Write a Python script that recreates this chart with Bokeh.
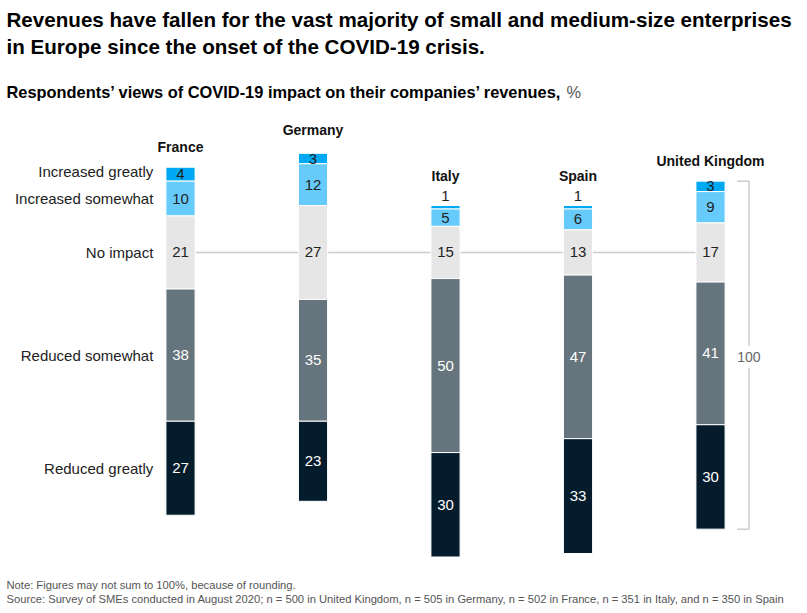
from bokeh.plotting import figure
from bokeh.models import ColumnDataSource, Range1d
from bokeh.core.properties import value
from bokeh.models import Label
from bokeh.embed import file_html
from bokeh.resources import INLINE

countries = ["France", "Germany", "Italy", "Spain", "United Kingdom"]
categories = ["Increased greatly", "Increased somewhat", "No impact",
              "Reduced somewhat", "Reduced greatly"]
increased_greatly = [4, 3, 1, 1, 3]
increased_somewhat = [10, 12, 5, 6, 9]
no_impact = [21, 27, 15, 13, 17]
reduced_somewhat = [38, 35, 50, 47, 41]
reduced_greatly = [27, 23, 30, 33, 30]
bracket_total = "100"

colors = ["#00a9f4", "#66cbfa", "#e6e6e6", "#66747d", "#051c2c"]
text_colors = ["#222222", "#222222", "#222222", "#ffffff", "#ffffff"]

FONT = "Liberation Sans"
W, H = 807, 613

p = figure(width=W, height=H, output_backend="svg", toolbar_location=None,
           min_border=0, x_range=Range1d(-1.3585, 4.732),
           y_range=Range1d(-103.74, 72.41))
p.axis.visible = False
p.grid.visible = False
p.outline_line_color = None
p.background_fill_color = "white"
p.border_fill_color = "white"

xs = list(range(len(countries)))

# reference line through no-impact centres
p.line([xs[0], xs[-1]], [0, 0], line_color="#cccccc", line_width=1.5)

series = [increased_greatly, increased_somewhat, no_impact, reduced_somewhat, reduced_greatly]
bw = 0.22
seg_x, seg_top, seg_bot, seg_col = [], [], [], []
lab_x, lab_y, lab_t, lab_c = [], [], [], []
bar_tops, bar_bots = [], []
france_centres = {}
for i in xs:
    ig, is_, ni, rs, rg = (s[i] for s in series)
    bounds = [
        (ni / 2 + is_ + ig, ni / 2 + is_),
        (ni / 2 + is_, ni / 2),
        (ni / 2, -ni / 2),
        (-ni / 2, -ni / 2 - rs),
        (-ni / 2 - rs, -ni / 2 - rs - rg),
    ]
    top_total = bounds[0][0]
    bar_tops.append(top_total)
    bar_bots.append(bounds[-1][1])
    for k, (t, b) in enumerate(bounds):
        seg_x.append(i); seg_top.append(t); seg_bot.append(b); seg_col.append(colors[k])
        v = series[k][i]
        if v < 2:
            lab_y.append(t + 2.6)
            lab_c.append("#222222")
        else:
            lab_y.append((t + b) / 2)
            lab_c.append(text_colors[k])
        lab_x.append(i); lab_t.append(str(v))
        if i == 0:
            france_centres[k] = (t + b) / 2

src = ColumnDataSource(dict(x=seg_x, top=seg_top, bottom=seg_bot, color=seg_col))
p.vbar(x="x", top="top", bottom="bottom", width=bw, fill_color="color",
       line_color="white", line_width=1, source=src)

lsrc = ColumnDataSource(dict(x=lab_x, y=lab_y, t=lab_t, c=lab_c))
p.text(x="x", y="y", text="t", text_color="c", text_align="center",
       text_baseline="middle", text_font=value(FONT), text_font_size="15px",
       source=lsrc)

# country labels
cy = []
for i in xs:
    extra = 2.6 if min(increased_greatly[i], increased_somewhat[i]) < 2 else 0
    cy.append(bar_tops[i] + 5.8 + extra)
cy[1] += 0.8
p.text(x=xs, y=cy, text=countries, text_align="center", text_baseline="middle",
       text_font=value(FONT), text_font_size="14px", text_font_style="bold",
       text_color="#111111")

# row labels at left (aligned to France segments)
ry = [france_centres[k] for k in range(5)]
ry[0] += 0.8
p.text(x=[-0.205] * 5, y=ry, text=categories,
       text_align="right", text_baseline="middle", text_font=value(FONT),
       text_font_size="15px", text_color="#222222")

# bracket for UK total, with a gap for the label
uk = xs[-1]
x1, x2 = uk + 0.2, uk + 0.29
mid = (bar_tops[-1] + bar_bots[-1]) / 2 - 0.6
gap = 3.2
p.multi_line([[x1, x2, x2], [x2, x2, x1]],
             [[bar_tops[-1], bar_tops[-1], mid + gap], [mid - gap, bar_bots[-1], bar_bots[-1]]],
             line_color="#cccccc", line_width=1.5)
p.text(x=[x2], y=[mid], text=[bracket_total], text_align="center", text_baseline="middle",
       text_font=value(FONT), text_font_size="14px", text_color="#666666")

# titles
def lab(text, x, ypx, size, bold=False, color="#000000"):
    p.add_layout(Label(x=x, y=H - ypx, x_units="screen", y_units="screen", text=text,
                       text_font=FONT, text_font_size=size,
                       text_font_style="bold" if bold else "normal",
                       text_color=color, text_baseline="middle", text_align="left"))

lab("Revenues have fallen for the vast majority of small and medium-size enterprises", 6, 19, "20.6px", True)
lab("in Europe since the onset of the COVID-19 crisis.", 6, 46, "20.6px", True)
lab("Respondents\u2019 views of COVID-19 impact on their companies\u2019 revenues,", 6, 91, "16.4px", True)
lab("%", 566, 91, "16.4px", False, "#555555")
lab("Note: Figures may not sum to 100%, because of rounding.", 6, 584, "11.2px", False, "#555555")
lab("Source: Survey of SMEs conducted in August 2020; n = 500 in United Kingdom, n = 505 in Germany, "
    "n = 502 in France, n = 351 in Italy, and n = 350 in Spain", 6, 598, "11.2px", False, "#555555")

open("out.html", "w").write(file_html(p, INLINE))
